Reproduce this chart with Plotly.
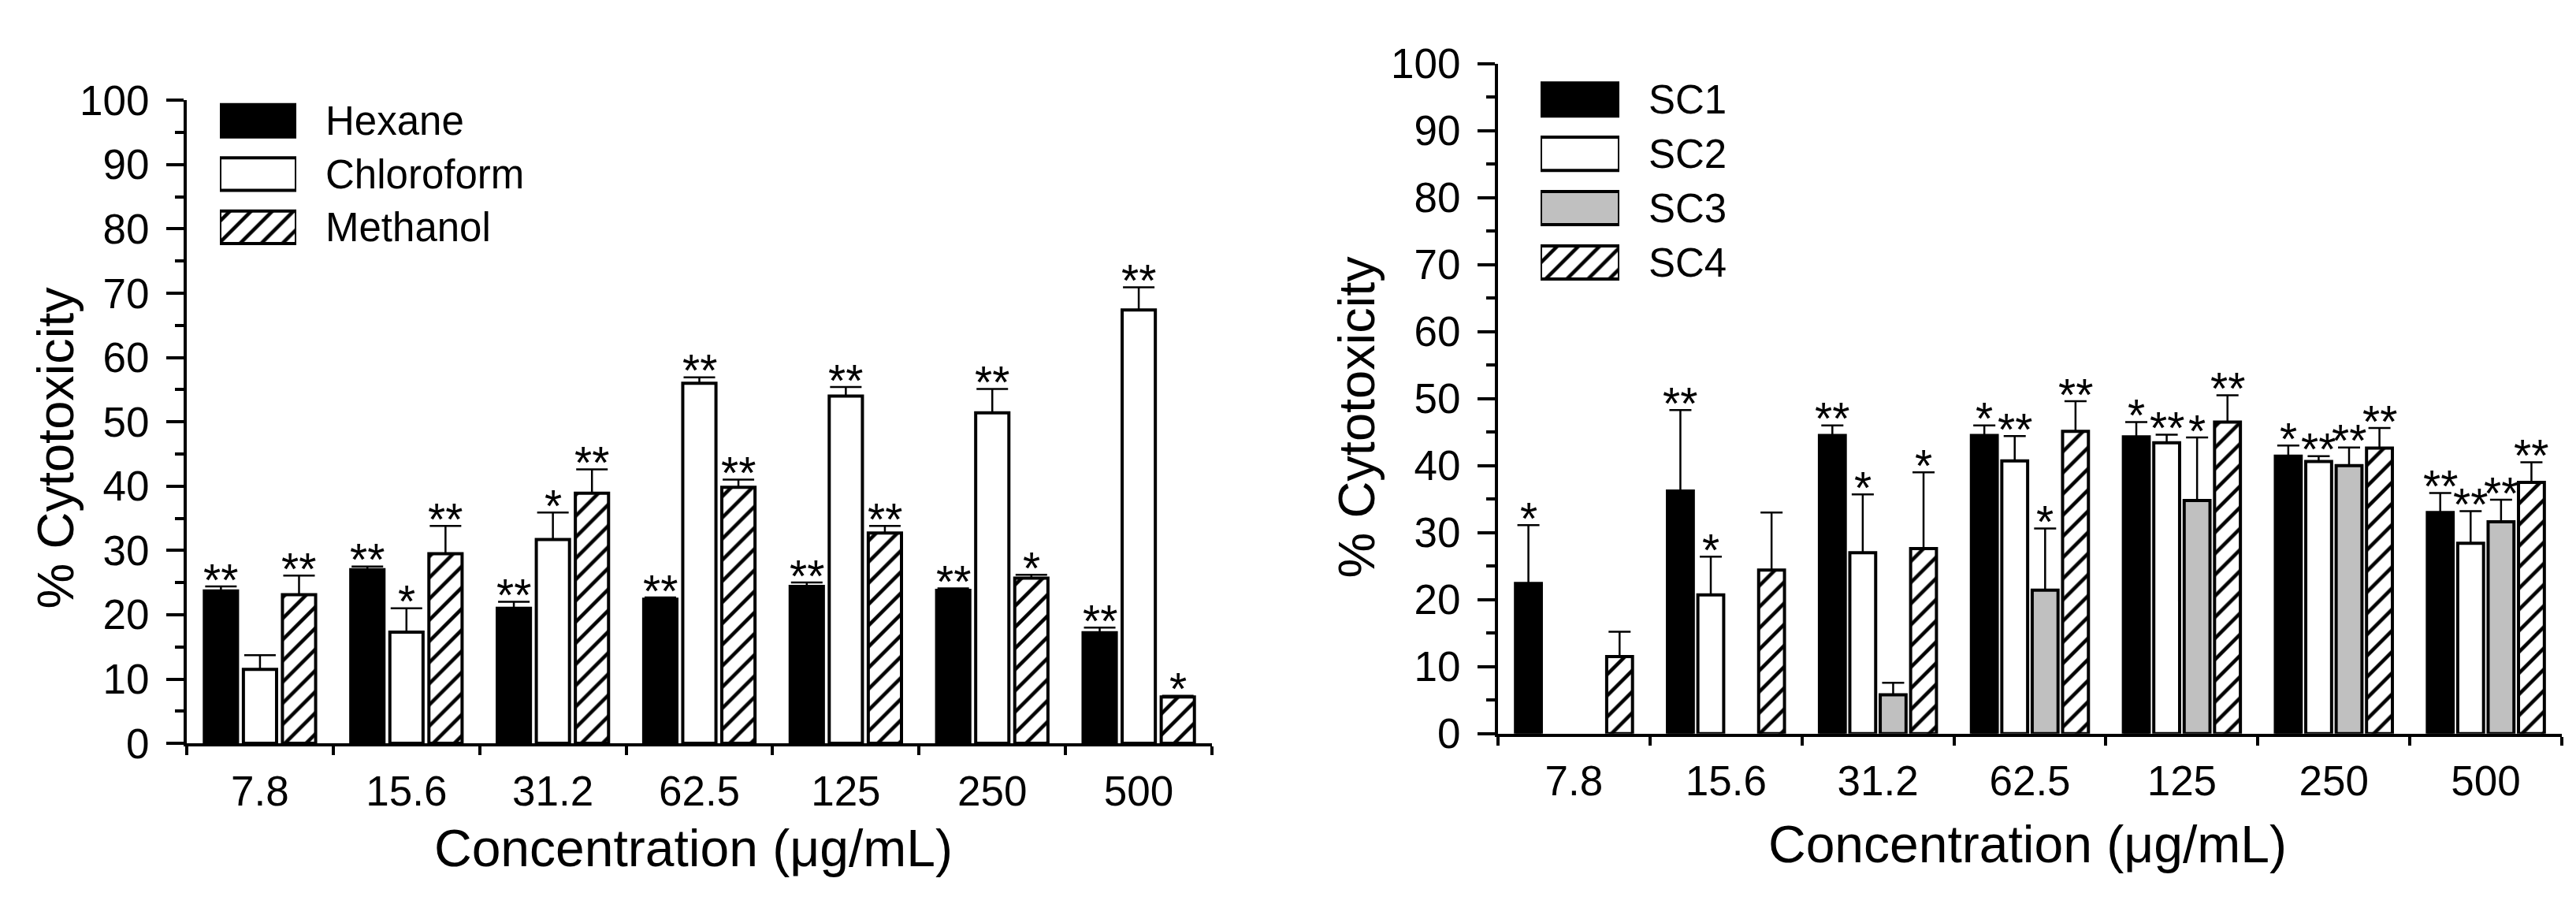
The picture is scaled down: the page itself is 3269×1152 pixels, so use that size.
import plotly.graph_objects as go

# x categories (µg/mL), shared by both panels
concentrations = ["7.8", "15.6", "31.2", "62.5", "125", "250", "500"]

# left panel: crude extracts
extract_names = ["Hexane", "Chloroform", "Methanol"]
hexane = [23.7, 27.0, 21.0, 22.4, 24.4, 23.8, 17.2]
hexane_err = [0.7, 0.5, 1.0, 0.3, 0.6, 0.3, 0.8]
chloroform = [11.5, 17.3, 31.7, 56.0, 54.0, 51.4, 67.4]
chloroform_err = [2.2, 3.7, 4.2, 0.9, 1.4, 3.7, 3.5]
methanol = [23.1, 29.5, 38.9, 39.8, 32.7, 25.7, 7.2]
methanol_err = [3.0, 4.3, 3.7, 1.2, 1.1, 0.5, 0.2]
hexane_sig = ["**", "**", "**", "**", "**", "**", "**"]
chloroform_sig = ["", "*", "*", "**", "**", "**", "**"]
methanol_sig = ["**", "**", "**", "**", "**", "*", "*"]

# right panel: sub-fractions (None = no bar)
fraction_names = ["SC1", "SC2", "SC3", "SC4"]
sc1 = [22.4, 36.2, 44.5, 44.5, 44.3, 41.4, 33.0]
sc1_err = [8.7, 12.1, 1.5, 1.5, 2.2, 1.6, 2.9]
sc2 = [None, 20.7, 27.0, 40.7, 43.4, 40.6, 28.4]
sc2_err = [None, 5.7, 8.7, 3.7, 1.2, 0.8, 4.8]
sc3 = [None, None, 5.8, 21.4, 34.8, 40.0, 31.6]
sc3_err = [None, None, 1.8, 9.2, 9.4, 2.7, 3.3]
sc4 = [11.5, 24.4, 27.6, 45.1, 46.5, 42.6, 37.5]
sc4_err = [3.7, 8.6, 11.4, 4.5, 4.0, 3.0, 3.0]
sc1_sig = ["*", "**", "**", "*", "*", "*", "**"]
sc2_sig = ["", "*", "*", "**", "**", "**", "**"]
sc3_sig = ["", "", "", "*", "*", "**", "**"]
sc4_sig = ["", "", "*", "**", "**", "**", "**"]

FONT = "Liberation Sans, Arial, sans-serif"
BAR_GAP = 0.2
GROUP_GAP = 0.15
STAR_SIZE = 57

FILLS = {
    "Hexane": "black", "Chloroform": "white", "Methanol": "hatch",
    "SC1": "black", "SC2": "white", "SC3": "#c0c0c0", "SC4": "hatch",
}


def marker_for(name):
    kind = FILLS[name]
    m = dict(line=dict(color="black", width=4))
    if kind == "hatch":
        m["color"] = "white"
        m["pattern"] = dict(shape="/", fgcolor="black", bgcolor="white",
                            fgopacity=1, size=19, solidity=0.24)
    else:
        m["color"] = kind
    return m


fig = go.Figure()
idx = list(range(len(concentrations)))
bounds = [i - 0.5 for i in range(len(concentrations) + 1)]
annotations = []


def add_panel(names, values, errors, sigs, xa, ya, cap):
    n = len(names)
    slot = (1 - BAR_GAP) / n
    for i, name in enumerate(names):
        fig.add_trace(go.Bar(
            x=idx, y=values[i], name=name, xaxis=xa, yaxis=ya,
            marker=marker_for(name), showlegend=False,
            error_y=dict(type="data", array=errors[i],
                         arrayminus=[0] * len(idx), symmetric=False,
                         color="black", thickness=2.5, width=cap),
        ))
        shift = -(1 - BAR_GAP) / 2 + (i + 0.5) * slot
        for j, s in enumerate(sigs[i]):
            if not s:
                continue
            annotations.append(dict(
                x=j + shift, y=values[i][j] + errors[i][j], xref=xa, yref=ya,
                text=s, showarrow=False, yanchor="bottom",
                yshift=-0.45 * STAR_SIZE,
                font=dict(family=FONT, size=STAR_SIZE, color="black"),
            ))


def add_key(names, xa, ya):
    for name in names:
        fig.add_trace(go.Bar(
            x=[1], y=[name], orientation="h", width=[0.61], offset=-0.305,
            xaxis=xa, yaxis=ya, marker=marker_for(name), showlegend=False,
            cliponaxis=False, hoverinfo="skip",
        ))


add_panel(extract_names, [hexane, chloroform, methanol],
          [hexane_err, chloroform_err, methanol_err],
          [hexane_sig, chloroform_sig, methanol_sig], "x", "y", 20)
add_panel(fraction_names, [sc1, sc2, sc3, sc4],
          [sc1_err, sc2_err, sc3_err, sc4_err],
          [sc1_sig, sc2_sig, sc3_sig, sc4_sig], "x2", "y2", 14)
add_key(extract_names, "x5", "y5")
add_key(fraction_names, "x6", "y6")

tick_font = dict(family=FONT, size=53, color="black")


def x_main(domain, anchor):
    return dict(
        domain=domain, anchor=anchor, range=[-0.5, 6.5],
        tickmode="array", tickvals=idx, ticktext=concentrations, ticks="",
        minor=dict(tickmode="array", tickvals=bounds, ticks="outside",
                   ticklen=11, tickwidth=4, tickcolor="black"),
        showline=True, linewidth=4, linecolor="black",
        showgrid=False, zeroline=False, tickfont=tick_font,
        ticklabelstandoff=11,
    )


def x_inner(over, anchor):
    return dict(
        overlaying=over, anchor=anchor, range=[-0.5, 6.5],
        tickmode="array", tickvals=bounds, ticks="inside", ticklen=11,
        tickwidth=4, tickcolor="black", showticklabels=False,
        showline=False, showgrid=False, zeroline=False,
    )


def y_main(domain, anchor):
    return dict(
        domain=domain, anchor=anchor, range=[0, 100],
        tickmode="linear", tick0=0, dtick=10, ticks="outside", ticklen=22,
        tickwidth=4, tickcolor="black",
        minor=dict(tick0=0, dtick=5, ticks="outside", ticklen=11,
                   tickwidth=4, tickcolor="black"),
        showline=True, linewidth=4, linecolor="black",
        showgrid=False, zeroline=False, tickfont=tick_font,
        ticklabelstandoff=11,
    )


def key_x(domain, anchor):
    return dict(domain=domain, anchor=anchor, range=[0, 1], visible=False)


def key_y(domain, anchor):
    return dict(
        domain=domain, anchor=anchor, type="category", autorange="reversed",
        side="right", ticks="", showline=False, showgrid=False,
        zeroline=False, ticklabelstandoff=36,
        tickfont=dict(family=FONT, size=51, color="black"),
    )


for xp, yp, text, angle, size in [
    (0.0190, 0.5139, "% Cytotoxicity", -90, 65),
    (0.5243, 0.5503, "% Cytotoxicity", -90, 65),
    (0.2668, 0.0495, "Concentration (\u03bcg/mL)", 0, 66),
    (0.7847, 0.0538, "Concentration (\u03bcg/mL)", 0, 66),
]:
    annotations.append(dict(
        x=xp, y=yp, xref="paper", yref="paper", text=text, textangle=angle,
        showarrow=False, xanchor="center", yanchor="middle",
        font=dict(family=FONT, size=size, color="black"),
    ))

fig.update_layout(
    width=3269, height=1152, autosize=False,
    margin=dict(l=0, r=0, t=0, b=0),
    paper_bgcolor="white", plot_bgcolor="white",
    barmode="group", bargap=BAR_GAP, bargroupgap=GROUP_GAP,
    showlegend=False,
    xaxis=x_main([0.07005, 0.46804], "y"),
    yaxis=y_main([0.1710, 0.9175], "x"),
    xaxis2=x_main([0.57908, 0.99205], "y2"),
    yaxis2=y_main([0.18229, 0.96007], "x2"),
    xaxis3=x_inner("x", "y"),
    xaxis4=x_inner("x2", "y2"),
    xaxis5=key_x([0.08290, 0.11258], "y5"),
    yaxis5=key_y([0.7392, 0.9245], "x5"),
    xaxis6=key_x([0.59560, 0.62618], "y6"),
    yaxis6=key_y([0.69766, 0.94991], "x6"),
    annotations=annotations,
)

fig.write_html("out.html")
